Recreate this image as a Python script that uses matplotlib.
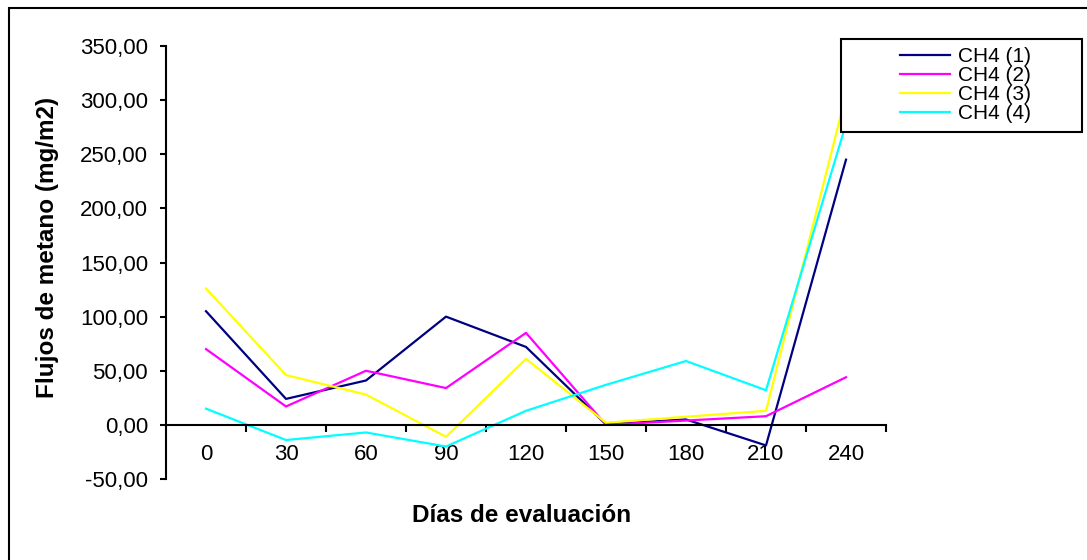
import matplotlib
matplotlib.use("Agg")
import matplotlib.pyplot as plt
from matplotlib.patches import Rectangle
from matplotlib.ticker import FixedLocator, FuncFormatter

plt.rcParams['font.family'] = ['Liberation Sans', 'DejaVu Sans']

dias = ["0", "30", "60", "90", "120", "150", "180", "210", "240"]
ch4_1 = [105, 24, 41, 100, 72, 0.5, 5, -19, 245]
ch4_2 = [70, 17, 50, 34, 85, 0, 4, 8, 44]
ch4_3 = [126, 46, 28, -11, 61, 2, 7.5, 13, 305]
ch4_4 = [15, -14, -7, -20, 13, 37, 59, 32, 278]
series = [("CH4 (1)", ch4_1, "#000080"),
          ("CH4 (2)", ch4_2, "#FF00FF"),
          ("CH4 (3)", ch4_3, "#FFFF00"),
          ("CH4 (4)", ch4_4, "#00FFFF")]
yticks = [-50, 0, 50, 100, 150, 200, 250, 300, 350]

W, H = 1087, 560
fig = plt.figure(figsize=(W / 100, H / 100), dpi=100)
ax = fig.add_axes([166 / W, 1 - 479 / H, 720 / W, 433 / H])

x = list(range(len(dias)))
handles = []
for name, vals, col in series:
    h, = ax.plot(x, vals, color=col, lw=1.6, label=name, clip_on=False)
    handles.append(h)

ax.set_xlim(-0.5, len(dias) - 0.5)
ax.set_ylim(-50, 350)
ax.spines['top'].set_visible(False)
ax.spines['right'].set_visible(False)
ax.spines['bottom'].set_position(('data', 0))
ax.spines['left'].set_linewidth(1.5)
ax.spines['bottom'].set_linewidth(1.5)

ax.set_xticks(x)
ax.set_xticklabels(dias, fontsize=16)
ax.xaxis.set_minor_locator(FixedLocator([i + 0.5 for i in x]))
ax.tick_params(axis='x', which='major', length=0, pad=14)
ax.tick_params(axis='x', which='minor', length=5, width=1.5, direction='out')

ax.set_yticks(yticks)
ax.yaxis.set_major_formatter(FuncFormatter(lambda v, p: f"{v:.2f}".replace('.', ',')))
ax.tick_params(axis='y', length=4, width=1.5, direction='out', pad=9, labelsize=16)

fig.text(48 / W, 1 - 247 / H, "Flujos de metano (mg/m2)", rotation=90,
         fontsize=17.5, fontweight='bold', ha='center', va='center')
fig.text(522 / W, 1 - 516 / H, "Días de evaluación", fontsize=17.5,
         fontweight='bold', ha='center', va='center')

# outer frame
fig.patches.append(Rectangle((9 / W, -0.1), 1.2, 1 - 8 / H + 0.1,
                             transform=fig.transFigure, fill=False,
                             edgecolor='black', lw=1.5, zorder=0.5))
# legend box
fig.patches.append(Rectangle((841 / W, 1 - 132 / H), 241 / W, 93 / H,
                             transform=fig.transFigure, facecolor='white',
                             edgecolor='black', lw=1.5, zorder=3))
leg = fig.legend(handles=handles, loc='upper left',
                 bbox_to_anchor=(900 / W, 1 - 47 / H), frameon=False,
                 fontsize=15, labelspacing=0.0, handlelength=2.4,
                 handletextpad=0.4, borderpad=0, borderaxespad=0)
leg.set_zorder(4)

fig.savefig("out.png", dpi=100)
